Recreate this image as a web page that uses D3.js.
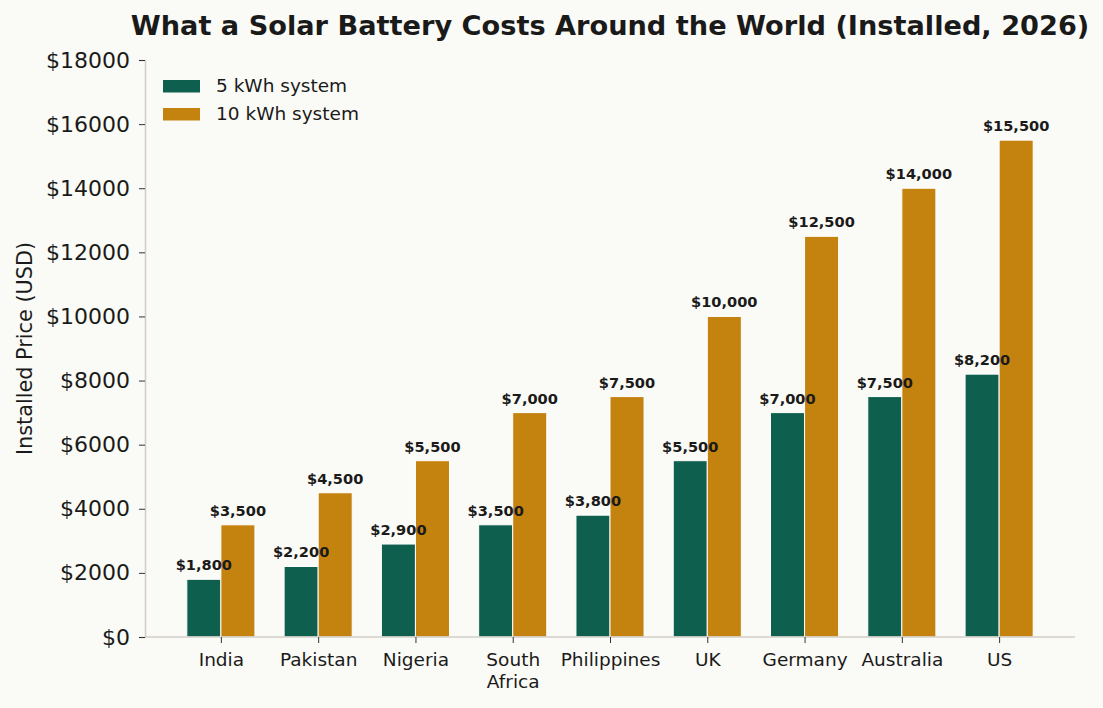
<!DOCTYPE html>
<html>
<head>
<meta charset="utf-8">
<script src="https://cdn.jsdelivr.net/npm/d3@7"></script>
<style>
  html, body { margin: 0; padding: 0; background: #fafaf6; }
  svg { display: block; font-family: "DejaVu Sans", sans-serif; }
</style>
</head>
<body>
<svg id="chart" width="1103" height="708"></svg>
<script>
// data
const countries = ['India', 'Pakistan', 'Nigeria', 'South Africa', 'Philippines', 'UK', 'Germany', 'Australia', 'US'];
const small = [1800, 2200, 2900, 3500, 3800, 5500, 7000, 7500, 8200];
const large = [3500, 4500, 5500, 7000, 7500, 10000, 12500, 14000, 15500];
const seriesNames = ['5 kWh system', '10 kWh system'];
const yTicks = [0, 2000, 4000, 6000, 8000, 10000, 12000, 14000, 16000, 18000];

const colors = ['#0e5f4d', '#c4820f'];
const ink = '#1a1a1a';
const spineColor = '#d3cfc7';

const svg = d3.select('#chart');
const margin = { left: 145, right: 1075, top: 60, bottom: 637 };

const x = d3.scaleLinear().domain([-0.78, 8.78]).range([margin.left, margin.right]);
const y = d3.scaleLinear().domain([0, 18000]).range([margin.bottom, margin.top]);
const barW = 0.35;

// title
svg.append('text')
  .attr('x', (margin.left + margin.right) / 2)
  .attr('y', 35)
  .attr('text-anchor', 'middle')
  .attr('font-size', 27.2)
  .attr('font-weight', 'bold')
  .attr('fill', ink)
  .text('What a Solar Battery Costs Around the World (Installed, 2026)');

// y label
svg.append('text')
  .attr('transform', `translate(32, ${(margin.top + margin.bottom) / 2}) rotate(-90)`)
  .attr('text-anchor', 'middle')
  .attr('font-size', 20.8)
  .attr('fill', ink)
  .text('Installed Price (USD)');

// bars first, then labels so nothing gets covered
const groups = [small, large];
const barLayer = svg.append('g');
const labelLayer = svg.append('g');
groups.forEach((vals, si) => {
  const off = si === 0 ? -barW / 2 : barW / 2;
  barLayer.append('g')
    .selectAll('rect')
    .data(vals)
    .join('rect')
    .attr('x', (d, i) => x(i + off - barW / 2))
    .attr('width', x(barW) - x(0))
    .attr('y', d => y(d))
    .attr('height', d => y(0) - y(d))
    .attr('fill', colors[si])
    .attr('stroke', '#ffffff')
    .attr('stroke-width', 1);

  labelLayer.append('g')
    .selectAll('text')
    .data(vals)
    .join('text')
    .attr('x', (d, i) => x(i + off))
    .attr('y', d => y(d) - 9)
    .attr('text-anchor', 'middle')
    .attr('font-size', 14.6)
    .attr('font-weight', 'bold')
    .attr('fill', ink)
    .text(d => '$' + d3.format(',')(d));
});

// y axis
const yAxis = svg.append('g')
  .attr('transform', `translate(${margin.left},0)`)
  .call(d3.axisLeft(y).tickValues(yTicks).tickSize(6).tickPadding(9).tickFormat(d => '$' + d));
yAxis.select('.domain').attr('stroke', spineColor).attr('stroke-width', 1.6);
yAxis.selectAll('.tick line').attr('stroke', '#333');
yAxis.selectAll('.tick text').attr('font-size', 22).attr('fill', ink).attr('font-family', '"DejaVu Sans", sans-serif');

// x axis
const xAxis = svg.append('g')
  .attr('transform', `translate(0,${margin.bottom})`)
  .call(d3.axisBottom(x).tickValues(d3.range(countries.length)).tickSize(6).tickPadding(10).tickFormat(i => countries[i]));
xAxis.select('.domain').attr('stroke', spineColor).attr('stroke-width', 1.6)
  .attr('d', `M${margin.left},0H${margin.right}`);
xAxis.selectAll('.tick line').attr('stroke', '#333');
xAxis.selectAll('.tick text')
  .attr('font-size', 18.5)
  .attr('fill', ink)
  .attr('font-family', '"DejaVu Sans", sans-serif')
  .each(function(i) {
    const words = countries[i] === 'South Africa' ? ['South', 'Africa'] : [countries[i]];
    const t = d3.select(this).text(null);
    words.forEach((w, k) => {
      t.append('tspan').attr('x', 0).attr('dy', k === 0 ? '0.71em' : '1.2em').text(w);
    });
  });

// legend
const legend = svg.append('g');
seriesNames.forEach((name, i) => {
  const ly = 80 + i * 28;
  legend.append('rect')
    .attr('x', 163).attr('y', ly)
    .attr('width', 37).attr('height', 12.5)
    .attr('fill', colors[i]);
  legend.append('text')
    .attr('x', 216).attr('y', ly + 6)
    .attr('dy', '0.35em')
    .attr('font-size', 18.5)
    .attr('fill', ink)
    .text(name);
});
</script>
</body>
</html>
